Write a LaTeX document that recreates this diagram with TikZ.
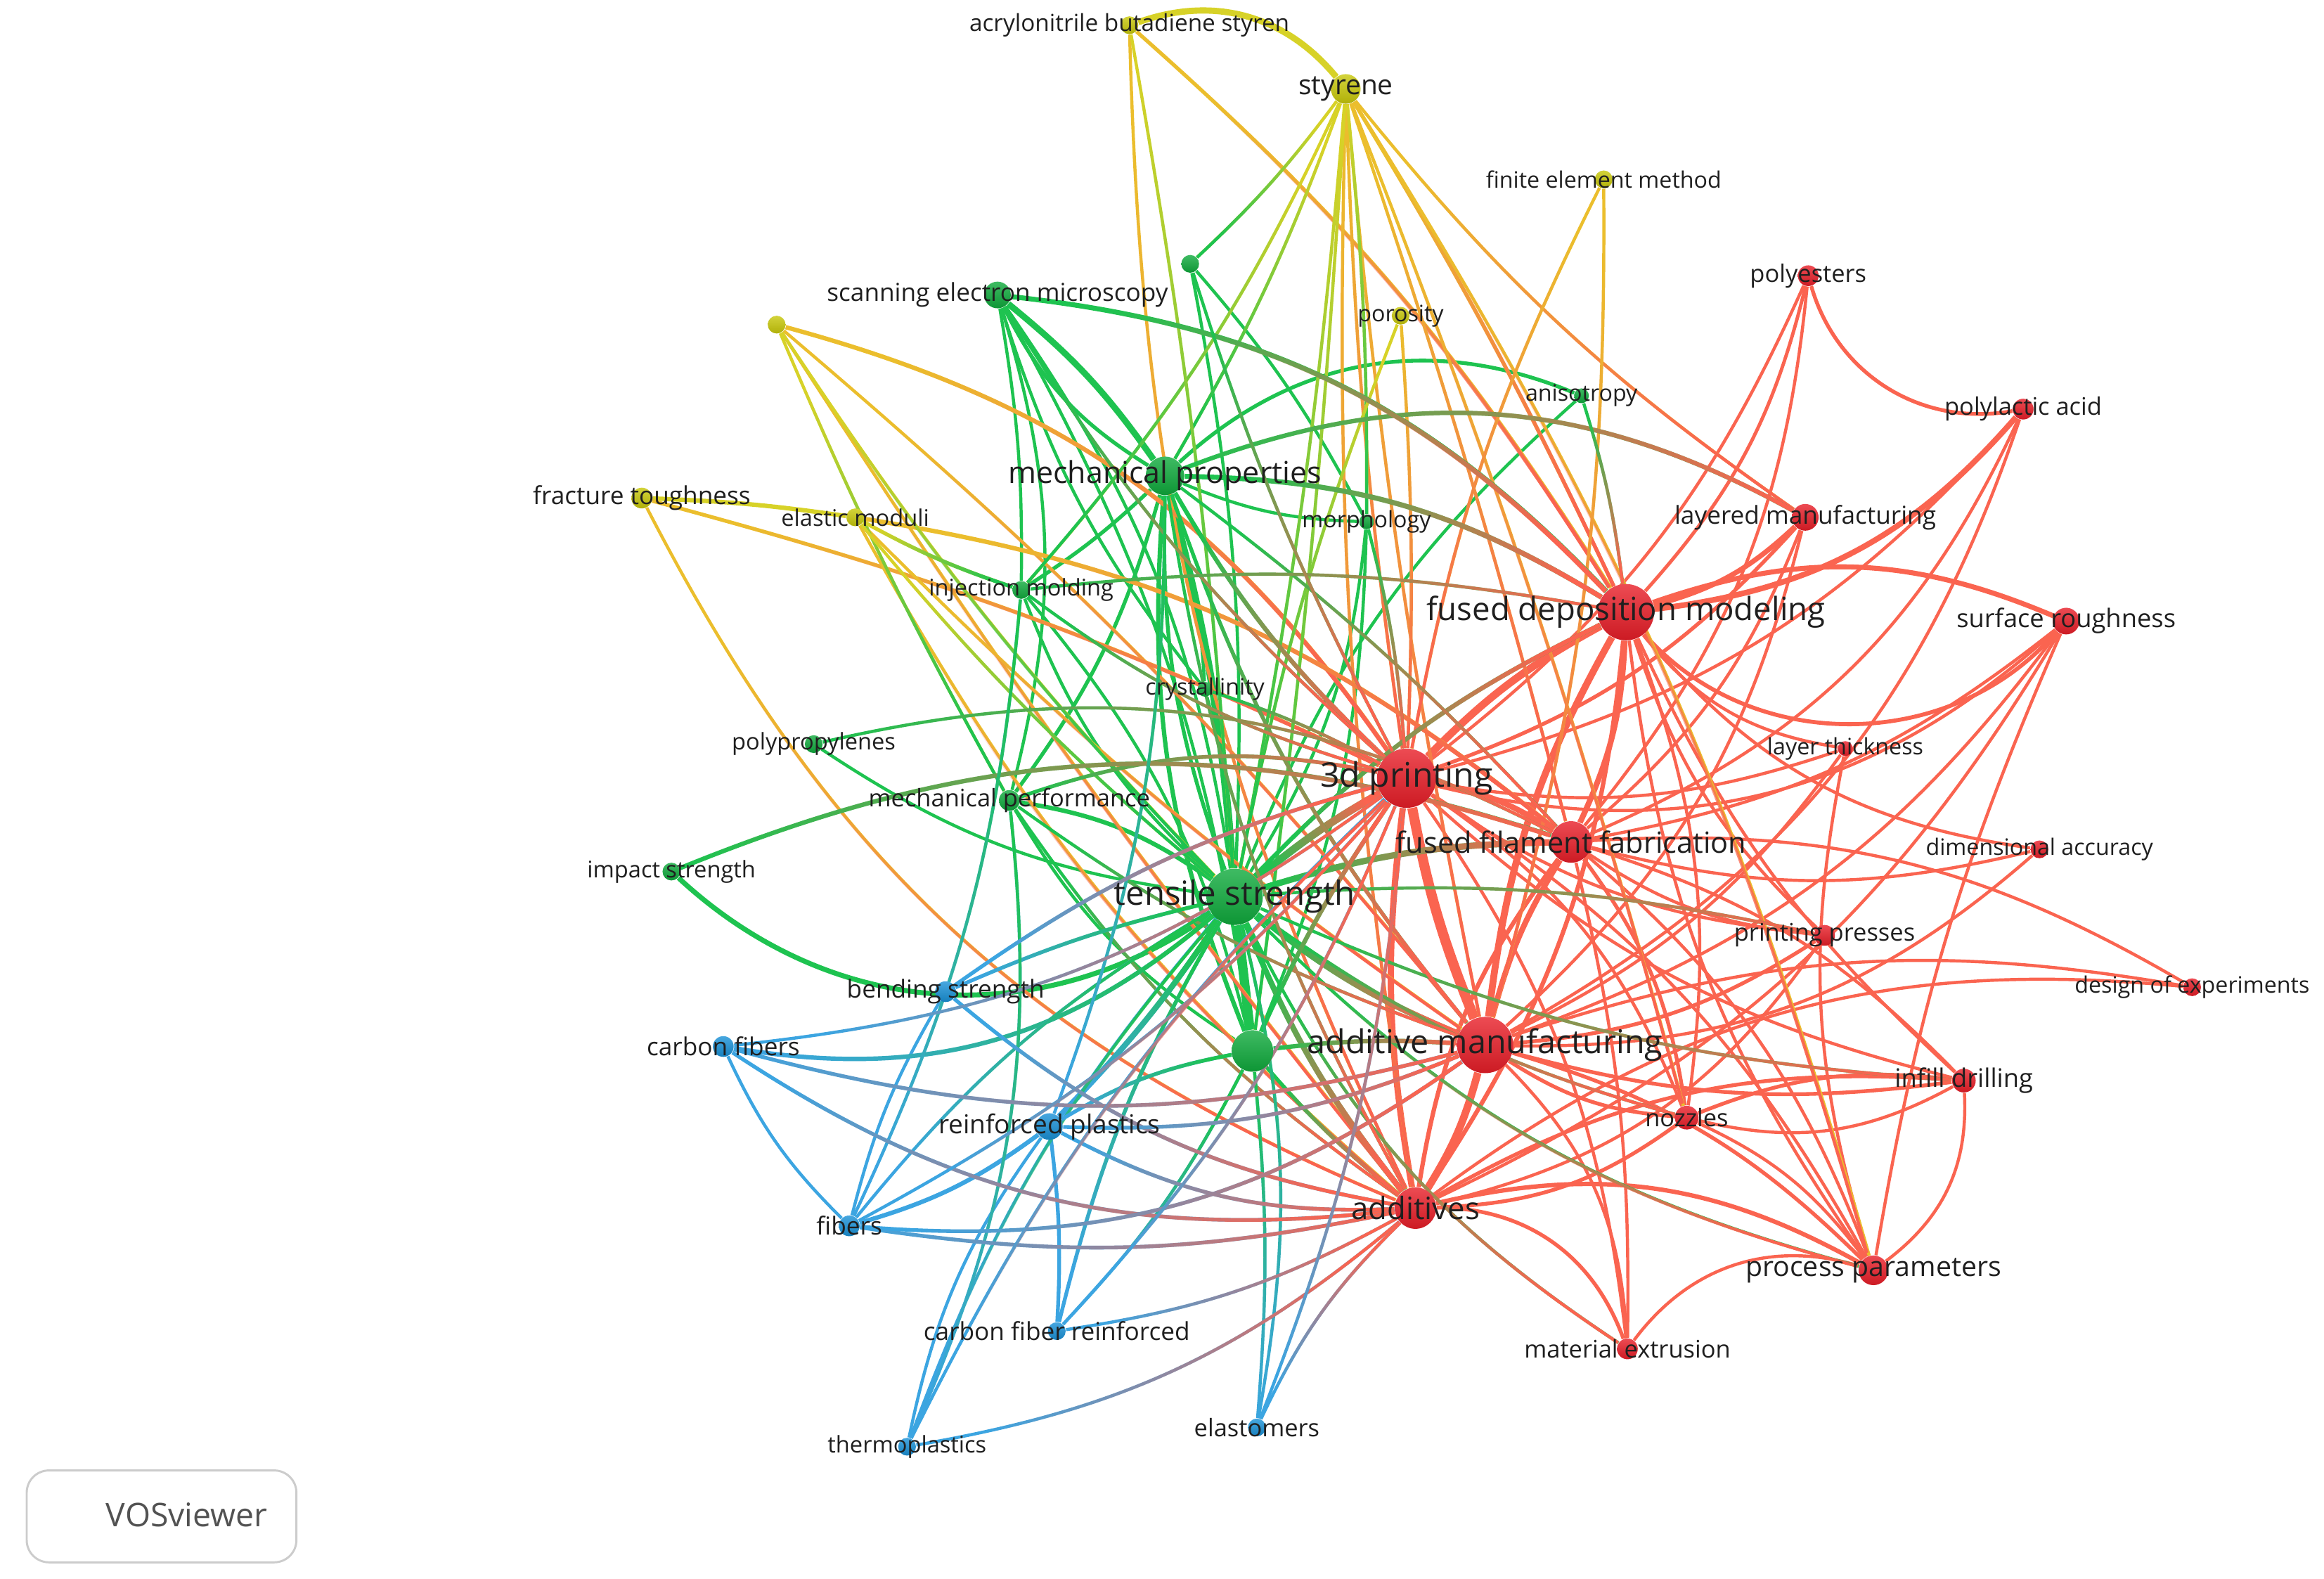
\documentclass[tikz,border=0pt]{standalone}
\usepackage{fontspec}
\setmainfont{Open Sans}
\usetikzlibrary{backgrounds,fadings}

\definecolor{ycol}{RGB}{200,200,10}
\definecolor{gcol}{RGB}{15,170,60}
\definecolor{bcol}{RGB}{25,145,215}
\definecolor{rcol}{RGB}{232,30,40}
\definecolor{rline}{RGB}{250,100,80}
\definecolor{gline}{RGB}{30,195,80}
\definecolor{bline}{RGB}{60,165,225}
\definecolor{yline}{RGB}{215,210,40}
\definecolor{oline}{RGB}{235,190,45}

\tikzstyle{term}=[circle, inner sep=0pt]
\tikzstyle{lbl}=[inner sep=0pt, text=black!88]
\tikzstyle{rr}=[draw=rline]
\tikzstyle{gg}=[draw=gline]
\tikzstyle{bb}=[draw=bline]
\tikzstyle{yy}=[draw=yline]

% link between two clusters: colour of the first end fading into that of the second
\newcommand{\mixlink}[6]{%
  \draw[draw=#1, line width={1.2*#6 pt}] (#3) to[bend left=#5] (#4);
  \pgfmathanglebetweenpoints{\pgfpointanchor{#3}{center}}{\pgfpointanchor{#4}{center}}%
  \edef\fadeang{\pgfmathresult}%
  \draw[draw=#2, line width={1.2*#6 pt}, path fading=west, fading angle=\fadeang]
    (#3) to[bend left=#5] (#4);
}

\begin{document}
\begin{tikzpicture}[x=0.02cm, y=-0.02cm]
  \useasboundingbox (0,0) rectangle (1568,1065);
  % terms
  \foreach \nm/\x/\y/\rad/\col/\fs/\txt in {
      abs/762/17/6/ycol/9/acrylonitrile butadiene styren,
      sty/908/60/10/ycol/10.5/styrene,
      fem/1082/121/6/ycol/8.7/finite element method,
      por/945/213/6/ycol/8.7/porosity,
      uy/524/219/6/ycol/8/,
      ft/433/336/7/ycol/9.5/fracture toughness,
      em/577/349/6/ycol/8.8/elastic moduli,
      ug1/803/178/6/gcol/8/,
      sem/673/199/9/gcol/9.5/scanning electron microscopy,
      ani/1067/267/5/gcol/8.7/anisotropy,
      mp/786/321/13/gcol/11.6/mechanical properties,
      mor/922/352/5/gcol/8.7/morphology,
      im/689/398/6/gcol/8.8/injection molding,
      cry/813/465/5/gcol/8.7/crystallinity,
      pp/549/502/6/gcol/8.8/polypropylenes,
      mpf/681/540/7/gcol/9.3/mechanical performance,
      is/453/588/6/gcol/8.8/impact strength,
      ts/833/605/19/gcol/12.8/tensile strength,
      ug2/845/709/14/gcol/8/,
      bs/638/669/7/bcol/9.5/bending strength,
      cf/488/706/7/bcol/9.5/carbon fibers,
      rp/708/760/9/bcol/10/reinforced plastics,
      fib/573/827/7/bcol/9.5/fibers,
      cfr/713/898/6/bcol/9.5/carbon fiber reinforced,
      thp/612/976/6/bcol/8.8/thermoplastics,
      ela/848/963/6/bcol/9.3/elastomers,
      pe/1220/186/7/rcol/9.3/polyesters,
      pla/1365/276/7/rcol/9.3/polylactic acid,
      lm/1218/349/9/rcol/9.5/layered manufacturing,
      fdm/1097/413/19/rcol/12.3/fused deposition modeling,
      sr/1394/419/9/rcol/9.8/surface roughness,
      lt/1245/505/5/rcol/8.7/layer thickness,
      tdp/949/525/20/rcol/13/3d printing,
      fff/1060/568/14/rcol/11.2/fused filament fabrication,
      da/1376/573/6/rcol/8.7/dimensional accuracy,
      prp/1231/631/7/rcol/9.3/printing presses,
      doe/1479/666/6/rcol/8.7/design of experiments,
      am/1002/705/19/rcol/12.6/additive manufacturing,
      ifd/1325/729/8/rcol/9.8/infill drilling,
      noz/1138/754/8/rcol/9.3/nozzles,
      add/955/815/14/rcol/11.8/additives,
      ppar/1264/857/10/rcol/10.6/process parameters,
      mex/1098/910/7/rcol/9.3/material extrusion} {%
    \node[term, top color=\col!80!white, bottom color=\col!88!black,
      minimum size={\rad*0.04cm},
      label={[lbl, font=\fontsize{\fs}{\fs}\selectfont]center:\txt}] (\nm) at (\x,\y) {};
  }

  \begin{pgfonlayer}{background}
    % red cluster
    \foreach \a/\b/\k/\w in {tdp/am/-4/3.2, tdp/fdm/6/2.4, fdm/am/-8/2.2, am/add/6/2.4,
        tdp/add/-6/2, fdm/fff/8/1.8, fff/am/-6/1.8, tdp/fff/8/1.8, fdm/add/10/1.4,
        fff/add/-10/1.4, fdm/pe/-10/1.1, fdm/pla/-15/1.8, fdm/lm/-10/1.6, fdm/sr/15/1.6,
        fdm/sr/-35/1.3, fdm/lt/-15/1, fdm/da/-15/1, fdm/prp/-10/1, fdm/noz/10/1,
        fdm/ppar/-10/1, fdm/ifd/-8/1, tdp/pe/-10/1, tdp/pla/-12/1, tdp/lm/-10/1.2,
        tdp/sr/-20/1, tdp/lt/-10/1, tdp/prp/-10/1, tdp/noz/12/1, tdp/ppar/10/1,
        tdp/mex/10/1, tdp/ifd/-10/1, fff/pe/-12/1, fff/pla/-15/1, fff/lm/-10/1,
        fff/sr/-10/1, fff/prp/-10/1, fff/noz/10/1.2, fff/ppar/10/1, fff/mex/5/1,
        fff/doe/12/1, fff/ifd/10/1, fff/da/-10/1, am/pla/-15/1, am/lm/-12/1,
        am/sr/-12/1, am/prp/-10/1.2, am/doe/10/1, am/noz/-10/1.2, am/ppar/10/1.2,
        am/ifd/-8/1.2, am/mex/15/1, am/da/-15/1, am/lt/-10/1, add/noz/-12/1.2,
        add/ppar/15/1.4, add/ifd/12/1.2, add/mex/25/1.2, add/prp/-15/1, add/sr/-12/1,
        add/doe/15/1, noz/ppar/10/1, noz/ifd/10/1.2, noz/ifd/-15/1, ifd/ppar/20/1,
        ppar/mex/-25/1, pe/pla/-30/1.2, lt/ppar/-10/1, sr/ppar/-5/1} {
      \pgfmathsetmacro\kk{1.4*\k}
      \draw[rr, line width={1.2*\w pt}] (\a) to[bend left=\kk] (\b);
    }
    % green cluster
    \foreach \a/\b/\k/\w in {mp/ts/4/2.4, mp/ts/-8/1.2, sem/mp/6/2, ts/ug2/0/3,
        sem/mp/-12/1.2, sem/ts/10/1, sem/im/4/1, sem/mpf/12/1, sem/cry/-8/1,
        sem/ug2/8/1, mp/im/4/1.2, mp/cry/5/1, mp/mor/-8/1, mp/mpf/8/1.2,
        mp/ug2/-10/1.4, mp/ani/25/1.2, ug1/ts/5/1, ug1/mor/5/1, ani/ts/-10/1,
        mor/ts/10/1, mor/ug2/8/1, im/ts/-10/1, cry/ts/5/1, pp/ts/-10/1,
        mpf/ts/10/1.4, is/ts/-30/1.6, mpf/ug2/-10/1, im/ug2/10/1} {
      \pgfmathsetmacro\kk{1.3*\k}
      \draw[gg, line width={1.2*\w pt}] (\a) to[bend left=\kk] (\b);
    }
    % blue cluster
    \foreach \a/\b/\k/\w in {rp/fib/10/1.4, rp/cfr/5/1.2, rp/thp/-12/1, cf/fib/-10/1,
        fib/bs/8/1}
      \draw[bb, line width={1.2*\w pt}] (\a) to[bend left=\k] (\b);
    % yellow cluster
    \foreach \a/\b/\k/\w in {abs/sty/35/2, ft/em/3/1.4}
      \draw[yy, line width={1.2*\w pt}] (\a) to[bend left=\k] (\b);
    % yellow to red
    \foreach \a/\b/\k/\w in {abs/add/-12/1, abs/fdm/8/1.2, sty/tdp/-3/1, sty/fdm/3/1.2,
        sty/fff/2/1, sty/am/-3/1, sty/add/-5/1, sty/lm/-8/1, sty/ppar/8/1, sty/noz/3/1,
        fem/tdp/-8/1, fem/am/8/1, por/tdp/3/1, uy/tdp/20/1.4, uy/am/5/1, uy/add/-3/1,
        ft/tdp/5/1.2, ft/add/-20/1, em/fff/15/1.4, em/am/-5/1, em/add/-10/1}
      \mixlink{oline}{rline}{\a}{\b}{\k}{\w};
    % yellow to green
    \foreach \a/\b/\k/\w in {sty/mp/5/1, sty/ts/3/1, sty/ug1/5/1, sty/ug2/2/1,
        sty/mor/3/1, sty/im/8/1, abs/ts/3/1, uy/ts/-5/1, uy/mpf/-3/1, em/im/-5/1.2,
        em/ts/-5/1, por/ts/-5/1}
      \mixlink{yline}{gline}{\a}{\b}{\k}{\w};
    % green to red
    \foreach \a/\b/\k/\w in {ts/tdp/5/2.4, ts/fdm/10/1.4, ts/fff/8/2, ts/am/-8/2,
        ts/add/-8/1.8, ts/noz/-10/1, ts/ppar/-15/1, ts/prp/8/1, ts/ifd/-10/1,
        ts/mex/-15/1, mp/tdp/-8/1.4, mp/fdm/15/1.6, mp/fff/5/1, mp/am/-10/1.2,
        mp/add/-10/1, mp/lm/25/1.4, sem/fdm/20/1.6, sem/tdp/-8/1, mpf/tdp/15/1.2,
        mpf/add/-10/1, mpf/am/-8/1, is/fff/20/1.4, ug2/am/5/1.4, ug2/tdp/5/1.4,
        ug2/add/-5/1.2, im/tdp/-10/1, im/fdm/8/1, cry/tdp/5/1, mor/tdp/5/1,
        ug1/tdp/-5/1, ani/fdm/5/1, pp/fff/20/1}
      \mixlink{gline}{rline}{\a}{\b}{\k}{\w};
    % blue to green
    \foreach \a/\b/\k/\w in {bs/ts/5/1.2, rp/ts/-5/1.8, cf/ts/-25/1.4, fib/ts/10/1,
        cfr/ts/8/1.2, thp/ts/10/1, ela/ts/-12/1, rp/ug2/10/1.2, ela/ug2/-5/1,
        thp/mpf/-15/1, rp/mp/-10/1, cfr/ug2/-8/1, fib/im/-10/1}
      \mixlink{bline}{gline}{\a}{\b}{\k}{\w};
    % blue to red
    \foreach \a/\b/\k/\w in {bs/tdp/10/1.2, bs/add/-15/1.2, cf/add/-20/1.2,
        cf/am/-15/1.2, cf/tdp/-15/1, fib/add/-10/1.2, fib/am/-20/1.2, rp/am/-12/1.2,
        rp/add/-15/1.2, cfr/tdp/-10/1, cfr/add/-10/1, thp/add/-15/1, thp/tdp/10/1,
        ela/add/10/1, ela/tdp/-8/1, fib/tdp/-10/1}
      \mixlink{bline}{rline}{\a}{\b}{\k}{\w};
  \end{pgfonlayer}

  % logo box
  \node[draw=black!20, line width=0.8pt, rounded corners=0.3cm, minimum width=3.64cm,
    minimum height=1.24cm] (vosbox) at (109,1023) {};
  \node[text=black!68, font=\fontsize{12.5}{13}\selectfont] (voslbl) at (126,1022) {VOSviewer};
\end{tikzpicture}
\end{document}
